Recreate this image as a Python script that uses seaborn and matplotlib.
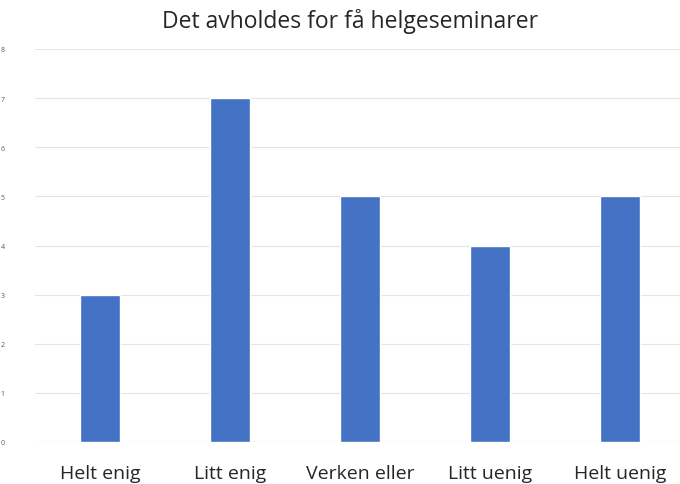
import matplotlib
matplotlib.use("Agg")
import matplotlib.pyplot as plt
import seaborn as sns
import pandas as pd

categories = ["Helt enig", "Litt enig", "Verken eller", "Litt uenig", "Helt uenig"]
counts = [3, 7, 5, 4, 5]
y_ticks = [0, 1, 2, 3, 4, 5, 6, 7, 8]

df = pd.DataFrame({"svar": categories, "antall": counts})

sns.set_style("white")
plt.rcParams["font.family"] = ["Open Sans", "DejaVu Sans"]

fig = plt.figure(figsize=(6.8, 4.85), dpi=100)
ax = fig.add_axes([35 / 680, 1 - 443 / 485, 645 / 680, (443 - 50) / 485])

sns.barplot(data=df, x="svar", y="antall", color="#4472C4", width=0.31,
            saturation=1, ax=ax, zorder=3)

ax.set_ylim(0, 8)
ax.set_xlim(-0.5, 4.46)
ax.set_yticks(y_ticks)
ax.set_yticklabels([str(t) for t in y_ticks], fontsize=5, color="#595959")
ax.tick_params(axis="y", length=0, pad=22)
ax.tick_params(axis="x", length=0, pad=16, labelsize=14, labelcolor="#262626")
ax.grid(axis="y", color="#e6e6e6", linewidth=0.8, zorder=0)
for s in ax.spines.values():
    s.set_visible(False)
ax.axhline(0, color="#d9d9d9", linewidth=0.8, zorder=2)
ax.set_xlabel("")
ax.set_ylabel("")

fig.text(350 / 680, 1 - 22 / 485, "Det avholdes for få helgeseminarer",
         ha="center", va="center", fontsize=16.5, color="#262626")

fig.savefig("out.png", dpi=100)
